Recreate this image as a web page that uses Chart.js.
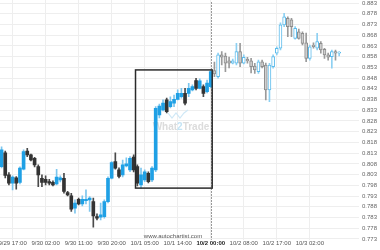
<!DOCTYPE html>
<html>
<head>
<meta charset="utf-8">
<script src="https://cdn.jsdelivr.net/npm/chart.js@4.4.1/dist/chart.umd.min.js"></script>
<style>
html, body { margin: 0; padding: 0; background: #fff; }
#wrap { width: 380px; height: 250px; position: relative; }
</style>
</head>
<body>
<div id="wrap"><canvas id="candleChart"></canvas></div>
<script>
// hours counted from 9/29 17:00
const hours = [-3, -2, -1, 0, 1, 2, 3, 4, 5, 6, 7, 8, 9, 10, 11, 12, 13, 14, 15, 16, 17, 18, 19, 20,
    21, 22, 23, 24, 25, 26, 27, 28, 29, 30, 31, 32, 33, 34, 35, 36, 37, 38, 39, 40, 41, 42, 43, 44,
    45, 46, 47, 48, 49, 50, 51, 52, 53, 54, 55, 56, 57, 58, 59, 60, 61, 62, 63, 64, 65, 66, 67, 68,
    69, 70, 71, 72, 73, 74, 75, 76, 77, 78, 79, 80, 81, 82, 83, 84, 85, 86, 87, 88, 89];

const opens = [0.8067, 0.8131, 0.8029, 0.7990, 0.8015, 0.7993, 0.8055, 0.8140, 0.8122, 0.8106, 0.8067, 0.8013,
    0.8008, 0.7997, 0.7994, 0.7987, 0.8005, 0.8013, 0.7946, 0.7931, 0.7873, 0.7915, 0.7893, 0.7909,
    0.7912, 0.7904, 0.7834, 0.7831, 0.7834, 0.7904, 0.8013, 0.8091, 0.8052, 0.8029, 0.8070, 0.8052,
    0.8112, 0.8067, 0.7982, 0.8005, 0.8036, 0.8005, 0.8052, 0.8308, 0.8331, 0.8378, 0.8347, 0.8363,
    0.8381, 0.8393, 0.8409, 0.8409, 0.8425, 0.8468, 0.8432, 0.8440, 0.8417, 0.8440, 0.8515, 0.8487,
    0.8588, 0.8583, 0.8560, 0.8549, 0.8549, 0.8603, 0.8549, 0.8567, 0.8560, 0.8536, 0.8510, 0.8556,
    0.8541, 0.8425, 0.8533, 0.8596, 0.8619, 0.8728, 0.8759, 0.8751, 0.8665, 0.8696, 0.8689, 0.8644,
    0.8572, 0.8634, 0.8619, 0.8642, 0.8614, 0.8588, 0.8580, 0.8603, 0.8596];

const highs = [0.8160, 0.8140, 0.8039, 0.8024, 0.8021, 0.8066, 0.8145, 0.8153, 0.8126, 0.8110, 0.8075, 0.8029,
    0.8024, 0.8008, 0.8001, 0.8055, 0.8024, 0.8036, 0.7952, 0.7943, 0.7912, 0.7920, 0.7931, 0.7959,
    0.7927, 0.7920, 0.7847, 0.7897, 0.7912, 0.8019, 0.8091, 0.8132, 0.8061, 0.8098, 0.8108, 0.8114,
    0.8122, 0.8075, 0.8060, 0.8052, 0.8043, 0.8067, 0.8347, 0.8359, 0.8378, 0.8387, 0.8392, 0.8401,
    0.8425, 0.8432, 0.8432, 0.8456, 0.8448, 0.8479, 0.8476, 0.8448, 0.8471, 0.8518, 0.8555, 0.8596,
    0.8603, 0.8596, 0.8578, 0.8569, 0.8642, 0.8642, 0.8588, 0.8577, 0.8572, 0.8549, 0.8564, 0.8564,
    0.8550, 0.8549, 0.8588, 0.8626, 0.8737, 0.8782, 0.8766, 0.8759, 0.8720, 0.8709, 0.8696, 0.8690,
    0.8634, 0.8644, 0.8689, 0.8650, 0.8619, 0.8596, 0.8611, 0.8611, 0.8603];

const lows = [0.8061, 0.8015, 0.7982, 0.7959, 0.7962, 0.7987, 0.8052, 0.8114, 0.8094, 0.8066, 0.7974, 0.7974,
    0.7982, 0.7982, 0.7977, 0.7982, 0.7996, 0.7943, 0.7931, 0.7858, 0.7850, 0.7889, 0.7884, 0.7893,
    0.7858, 0.7785, 0.7819, 0.7819, 0.7827, 0.7898, 0.8010, 0.8055, 0.8015, 0.8019, 0.8066, 0.8044,
    0.8043, 0.7977, 0.7967, 0.7997, 0.7991, 0.7997, 0.8044, 0.8294, 0.8327, 0.8317, 0.8341, 0.8347,
    0.8378, 0.8386, 0.8355, 0.8393, 0.8420, 0.8425, 0.8429, 0.8393, 0.8411, 0.8434, 0.8487, 0.8479,
    0.8541, 0.8510, 0.8527, 0.8546, 0.8541, 0.8533, 0.8546, 0.8550, 0.8504, 0.8502, 0.8502, 0.8527,
    0.8378, 0.8370, 0.8526, 0.8588, 0.8611, 0.8720, 0.8673, 0.8673, 0.8661, 0.8661, 0.8634, 0.8556,
    0.8564, 0.8620, 0.8611, 0.8596, 0.8572, 0.8564, 0.8526, 0.8564, 0.8583];

const closes = [0.8145, 0.8026, 0.7990, 0.8018, 0.7990, 0.8060, 0.8137, 0.8122, 0.8098, 0.8075, 0.8029, 0.7993,
    0.7993, 0.7990, 0.7982, 0.8018, 0.8015, 0.7951, 0.7935, 0.7869, 0.7897, 0.7893, 0.7915, 0.7915,
    0.7920, 0.7837, 0.7827, 0.7842, 0.7904, 0.8013, 0.8086, 0.8060, 0.8021, 0.8075, 0.8080, 0.8106,
    0.8052, 0.7990, 0.8029, 0.8043, 0.7997, 0.8060, 0.8339, 0.8350, 0.8363, 0.8323, 0.8370, 0.8381,
    0.8409, 0.8409, 0.8363, 0.8432, 0.8440, 0.8432, 0.8467, 0.8409, 0.8457, 0.8510, 0.8499, 0.8588,
    0.8578, 0.8549, 0.8550, 0.8560, 0.8603, 0.8549, 0.8577, 0.8560, 0.8533, 0.8518, 0.8556, 0.8533,
    0.8425, 0.8541, 0.8580, 0.8619, 0.8728, 0.8766, 0.8720, 0.8720, 0.8712, 0.8665, 0.8642, 0.8572,
    0.8626, 0.8626, 0.8650, 0.8611, 0.8588, 0.8577, 0.8603, 0.8596, 0.8596];

const xTickHours = [0, 9, 18, 27, 36, 45, 54, 63, 72, 81];
const xTickLabels = ['9/29 17:00', '9/30 02:00', '9/30 11:00', '9/30 20:00', '10/1 05:00',
    '10/1 14:00', '10/2 00:00', '10/2 08:00', '10/2 17:00', '10/3 02:00'];
const yTicks = [0.883, 0.878, 0.873, 0.868, 0.863, 0.858, 0.853, 0.848, 0.843, 0.838, 0.833, 0.828,
    0.823, 0.818, 0.813, 0.808, 0.803, 0.798, 0.793, 0.788, 0.783, 0.778, 0.773];

// pattern box and "now" marker
const markerHour = 54;
const boxStart = 33.5, boxEnd = 54.4;
const boxHigh = 0.8518, boxLow = 0.7967;

const FONT = "'Liberation Sans', Arial, sans-serif";

// candle colours: solid before the marker, hollow/grey after
const bodyFill = [], bodyBorder = [], bodyBorderW = [], wickColor = [];
hours.forEach((h, i) => {
    const up = closes[i] >= opens[i];
    if (h <= markerHour) {
        bodyFill.push(up ? '#1fa0e5' : '#333333');
        bodyBorder.push(up ? '#1fa0e5' : '#333333');
        bodyBorderW.push(0);
        wickColor.push(up ? '#7cc6ee' : '#4a4a4a');
    } else {
        bodyFill.push(up ? '#ffffff' : '#cfcfcf');
        bodyBorder.push(up ? '#5bbbec' : '#8c8c8c');
        bodyBorderW.push(1);
        wickColor.push(up ? '#8dd0f2' : '#9a9a9a');
    }
});

const overlay = {
    id: 'overlay',
    beforeDatasetsDraw(chart) {
        const { ctx, chartArea, scales: { x } } = chart;
        ctx.save();
        // watermark
        const cx = 181, cy = 127;
        ctx.font = 'bold 10px ' + FONT;
        ctx.textBaseline = 'middle';
        const parts = [['What', '#dcdcdc'], ['2', '#c4e4f5'], ['Trade', '#dcdcdc']];
        const total = parts.reduce((s, p) => s + ctx.measureText(p[0]).width, 0);
        let tx = cx - total / 2;
        parts.forEach(p => {
            ctx.fillStyle = p[1];
            ctx.fillText(p[0], tx, cy);
            tx += ctx.measureText(p[0]).width;
        });
        ctx.strokeStyle = '#cfe8f6';
        ctx.lineWidth = 1.2;
        ctx.beginPath();
        ctx.moveTo(168, 113); ctx.lineTo(172, 118); ctx.lineTo(176, 113); ctx.lineTo(180, 118); ctx.lineTo(184, 113); ctx.lineTo(188, 110);
        ctx.stroke();

        // marker line
        const mx = Math.round(x.getPixelForValue(markerHour)) + 0.5;
        ctx.strokeStyle = '#9a9a9a';
        ctx.lineWidth = 1;
        ctx.setLineDash([2, 1]);
        ctx.beginPath();
        ctx.moveTo(mx, chartArea.top + 2);
        ctx.lineTo(mx, chartArea.bottom);
        ctx.stroke();
        ctx.restore();
    },
    afterDatasetsDraw(chart) {
        const { ctx, scales: { x, y } } = chart;
        ctx.save();
        const x1 = x.getPixelForValue(boxStart), x2 = x.getPixelForValue(boxEnd);
        const y1 = y.getPixelForValue(boxHigh), y2 = y.getPixelForValue(boxLow);
        ctx.strokeStyle = '#2b2b2b';
        ctx.lineWidth = 1.5;
        ctx.strokeRect(x1, y1, x2 - x1, y2 - y1);

        ctx.font = '6px ' + FONT;
        ctx.fillStyle = '#555';
        ctx.textAlign = 'center';
        ctx.textBaseline = 'middle';
        ctx.fillText('www.autochartist.com', 173, 236);
        ctx.restore();
    }
};

const ctx1 = document.getElementById('candleChart').getContext('2d');
new Chart(ctx1, {
    type: 'bar',
    data: {
        datasets: [
            {
                label: 'Body',
                data: hours.map((h, i) => ({ x: h, y: [opens[i], closes[i]] })),
                backgroundColor: bodyFill,
                borderColor: bodyBorder,
                borderWidth: bodyBorderW,
                borderSkipped: false,
                barThickness: 3,
                minBarLength: 1,
                grouped: false,
                order: 0
            },
            {
                label: 'Wick',
                data: hours.map((h, i) => ({ x: h, y: [lows[i], highs[i]] })),
                backgroundColor: wickColor,
                borderWidth: 0,
                barThickness: 1,
                grouped: false,
                order: 1
            }
        ]
    },
    options: {
        responsive: true,
        maintainAspectRatio: false,
        animation: false,
        layout: { padding: { left: 0, right: 0, top: 0, bottom: 3 } },
        plugins: {
            legend: { display: false },
            tooltip: { enabled: false }
        },
        scales: {
            x: {
                type: 'linear',
                offset: false,
                min: -3.43,
                max: 94.4,
                afterBuildTicks: axis => { axis.ticks = xTickHours.map(v => ({ value: v })); },
                afterFit: axis => { axis.paddingLeft = 0; axis.paddingRight = 0; },
                grid: { color: '#eeeeee', drawTicks: false, offset: false },
                border: { display: false },
                ticks: {
                    autoSkip: false,
                    maxRotation: 0,
                    padding: 0,
                    color: ctx => ctx.index === 6 ? '#222' : '#555',
                    font: ctx => ({ size: 6, family: FONT, weight: ctx.index === 6 ? 'bold' : 'normal' }),
                    callback: (v, i) => xTickLabels[i]
                }
            },
            y: {
                position: 'right',
                min: 0.7726,
                max: 0.8844,
                afterBuildTicks: axis => { axis.ticks = yTicks.map(v => ({ value: v })); },
                afterFit: axis => { axis.paddingTop = 0; axis.paddingBottom = 0; },
                grid: { color: '#eeeeee', drawTicks: false },
                border: { display: false },
                ticks: {
                    autoSkip: false,
                    padding: 3,
                    color: '#666',
                    font: { size: 6, family: FONT },
                    callback: v => v.toFixed(3)
                }
            }
        }
    },
    plugins: [overlay]
});
</script>
</body>
</html>
